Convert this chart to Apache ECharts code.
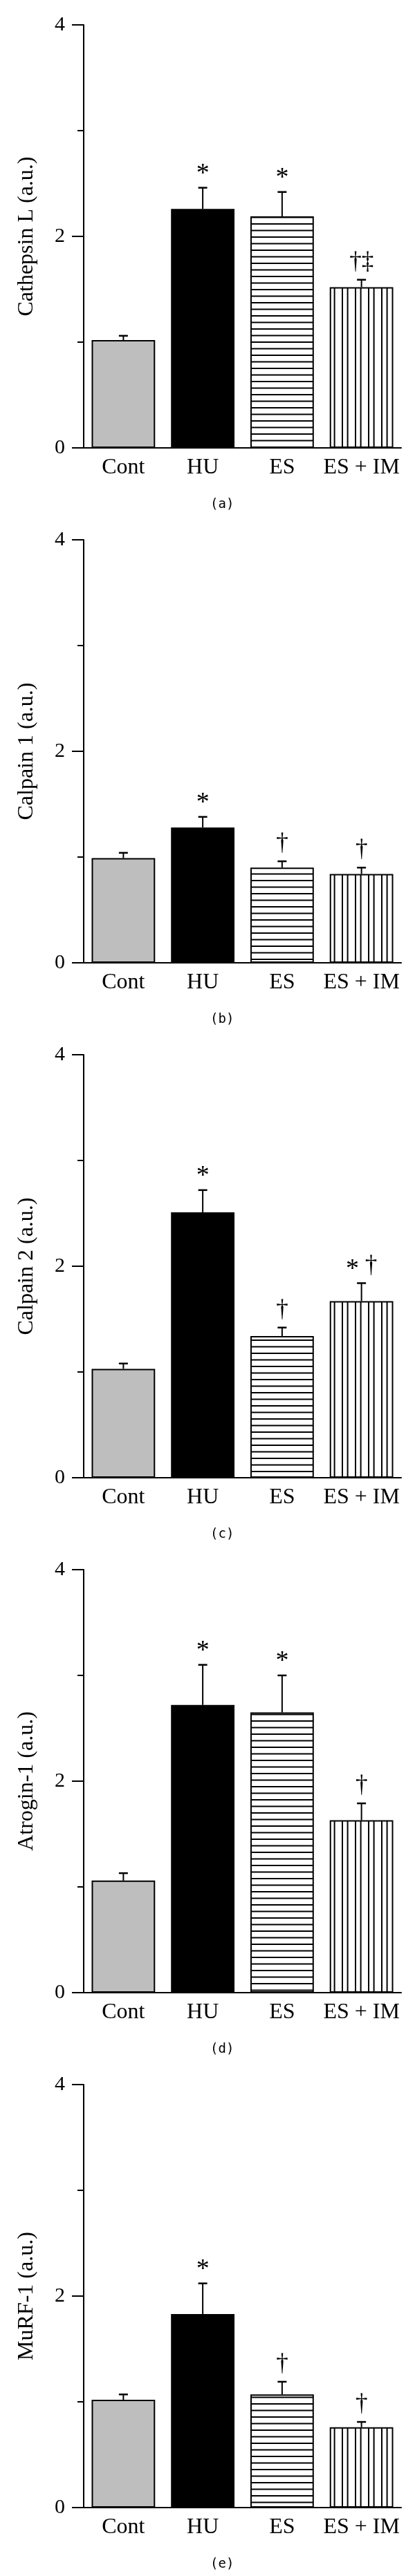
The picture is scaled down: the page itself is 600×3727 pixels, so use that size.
<!DOCTYPE html>
<html>
<head>
<meta charset="utf-8">
<script src="https://cdn.jsdelivr.net/npm/echarts@6/dist/echarts.min.js"></script>
<style>
html,body{margin:0;padding:0;background:#fff;}
#chart{width:600px;height:3727px;}
</style>
</head>
<body>
<div id="chart"></div>
<script>
// ---- data ----
const categories = ['Cont', 'HU', 'ES', 'ES + IM'];
const yNames = ['Cathepsin L (a.u.)', 'Calpain 1 (a.u.)', 'Calpain 2 (a.u.)', 'Atrogin-1 (a.u.)', 'MuRF-1 (a.u.)'];
const captions = ['(a)', '(b)', '(c)', '(d)', '(e)'];
const yTicks = [0, 2, 4];

const cathepsinL     = [1.02, 2.26, 2.19, 1.52];
const cathepsinLErr  = [0.04, 0.20, 0.23, 0.07];
const cathepsinLSig  = ['', '*', '*', '†‡'];

const calpain1       = [0.99, 1.28, 0.90, 0.84];
const calpain1Err    = [0.05, 0.10, 0.06, 0.06];
const calpain1Sig    = ['', '*', '†', '†'];

const calpain2       = [1.03, 2.51, 1.34, 1.67];
const calpain2Err    = [0.05, 0.21, 0.08, 0.17];
const calpain2Sig    = ['', '*', '†', '* †'];

const atrogin1       = [1.06, 2.72, 2.65, 1.63];
const atrogin1Err    = [0.07, 0.38, 0.35, 0.16];
const atrogin1Sig    = ['', '*', '*', '†'];

const murf1          = [1.02, 1.83, 1.07, 0.76];
const murf1Err       = [0.05, 0.29, 0.12, 0.05];
const murf1Sig       = ['', '*', '†', '†'];

const panelMeans = [cathepsinL, calpain1, calpain2, atrogin1, murf1];
const panelErrs  = [cathepsinLErr, calpain1Err, calpain2Err, atrogin1Err, murf1Err];
const panelSigs  = [cathepsinLSig, calpain1Sig, calpain2Sig, atrogin1Sig, murf1Sig];

// ---- styles ----
const SERIF = '"Liberation Serif", "Times New Roman", serif';
function makePattern(kind) {
  const c = document.createElement('canvas');
  if (kind === 'h') {
    c.width = 8; c.height = 19;
    const g = c.getContext('2d');
    g.fillStyle = '#fff'; g.fillRect(0, 0, 8, 19);
    g.fillStyle = '#000';
    g.fillRect(0, 0, 8, 2);
    g.fillRect(0, 9.5, 8, 2);
  } else {
    c.width = 19; c.height = 8;
    const g = c.getContext('2d');
    g.fillStyle = '#fff'; g.fillRect(0, 0, 19, 8);
    g.fillStyle = '#000';
    g.fillRect(0, 0, 2, 8);
    g.fillRect(7.6, 0, 2, 8);
  }
  return { image: c, repeat: 'repeat' };
}
const barFills = ['#bebebe', '#000000', makePattern('h'), makePattern('v')];

const panelStep = 745;
const gridTop0 = 36, gridHeight = 612, gridLeft = 121, gridRight = 20;

function sigRich(s) {
  return s.split('').map(ch => ch === '*' ? '{a|*}' : (ch === ' ' ? '{d| }' : '{d|' + ch + '}')).join('');
}

const grids = [], xAxes = [], yAxes = [], series = [], graphics = [];
for (let k = 0; k < 5; k++) {
  const top = gridTop0 + k * panelStep;
  grids.push({ left: gridLeft, right: gridRight, top: top, height: gridHeight, containLabel: false });
  xAxes.push({
    type: 'category', gridIndex: k, data: categories,
    axisLine: { show: true, lineStyle: { color: '#000', width: 2 } },
    axisTick: { show: false },
    axisLabel: { color: '#000', fontFamily: SERIF, fontSize: 32, margin: 13, interval: 0, hideOverlap: false },
    splitLine: { show: false }
  });
  yAxes.push({
    type: 'value', gridIndex: k, min: yTicks[0], max: yTicks[yTicks.length - 1], interval: 2,
    name: yNames[k], nameLocation: 'middle', nameRotate: 90, nameGap: 66,
    nameTextStyle: { color: '#000', fontFamily: SERIF, fontSize: 32 },
    axisLine: { show: true, lineStyle: { color: '#000', width: 2 } },
    axisTick: { show: true, length: 17, lineStyle: { color: '#000', width: 2 } },
    minorTick: { show: true, splitNumber: 2, length: 9, lineStyle: { color: '#000', width: 2 } },
    axisLabel: { color: '#000', fontFamily: SERIF, fontSize: 30, margin: 27 },
    splitLine: { show: false }, minorSplitLine: { show: false }
  });
  const means = panelMeans[k], errs = panelErrs[k], sigs = panelSigs[k];
  series.push({
    type: 'bar', xAxisIndex: k, yAxisIndex: k, barCategoryGap: '20%',
    data: means.map((v, i) => ({ value: v, itemStyle: { color: barFills[i], borderColor: '#000', borderWidth: 2 } })),
    silent: true, z: 2
  });
  series.push({
    type: 'custom', xAxisIndex: k, yAxisIndex: k, z: 5, silent: true,
    data: means.map((v, i) => [i, v, v + errs[i]]),
    renderItem: (function (sigArr) {
      return function (params, api) {
        const p0 = api.coord([api.value(0), api.value(1)]);
        const p1 = api.coord([api.value(0), api.value(2)]);
        const half = 6.5;
        const sig = sigArr[params.dataIndex];
        const children = [
          { type: 'line', shape: { x1: p0[0], y1: p0[1], x2: p1[0], y2: p1[1] }, style: { stroke: '#000', lineWidth: 2 } },
          { type: 'line', shape: { x1: p1[0] - half, y1: p1[1], x2: p1[0] + half, y2: p1[1] }, style: { stroke: '#000', lineWidth: 2.5 } }
        ];
        if (sig) {
          children.push({ type: 'text', x: p1[0], y: p1[1] - 25,
            style: { text: sigRich(sig), fill: '#000', align: 'center', verticalAlign: 'middle',
              rich: {
                a: { fontFamily: SERIF, fontSize: 38, lineHeight: 30, padding: [11, 0, 0, 0], fill: '#000' },
                d: { fontFamily: SERIF, fontSize: 35, lineHeight: 30, fill: '#000' }
              } } });
        }
        return { type: 'group', children: children };
      };
    })(sigs)
  });
  graphics.push({ type: 'text', left: 304, top: 721 + k * panelStep,
    style: { text: captions[k], fill: '#000', font: '19px "DejaVu Sans Mono", monospace' } });
}

const chart = echarts.init(document.getElementById('chart'), null, { renderer: 'canvas' });
chart.setOption({
  backgroundColor: '#fff',
  animation: false,
  grid: grids, xAxis: xAxes, yAxis: yAxes, series: series, graphic: graphics
});
</script>
</body>
</html>
